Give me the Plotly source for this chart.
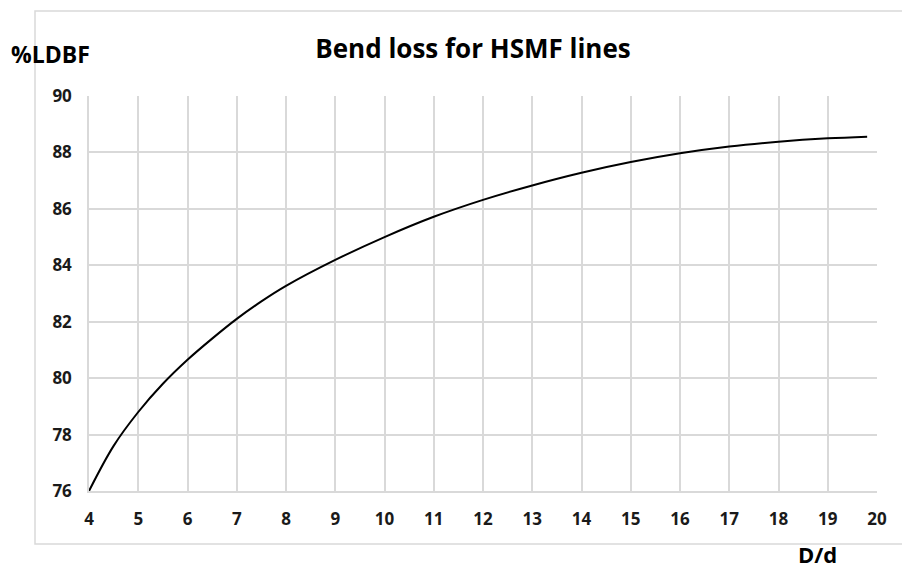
import plotly.graph_objects as go

x_ratio = [4, 4.5, 5, 5.5, 6, 6.5, 7, 7.5, 8, 9, 10, 11, 12, 13, 14, 15, 16, 17, 18, 19, 19.8]
ldbf = [76.0, 77.6, 78.8, 79.8, 80.65, 81.4, 82.1, 82.72, 83.27, 84.19, 85.0, 85.72, 86.32, 86.83,
        87.28, 87.66, 87.97, 88.21, 88.38, 88.5, 88.56]
x_ticks = list(range(4, 21))
y_ticks = list(range(76, 91, 2))

W, H = 902, 568
L, R, T, B = 89, 25, 96, 77
pw = W - L - R
ph = H - T - B

def px(xp):
    return (xp - L) / pw

def py(yp):
    return (H - B - yp) / ph

fig = go.Figure()
fig.add_trace(go.Scatter(x=x_ratio, y=ldbf, mode="lines",
                         line=dict(color="black", width=2, shape="spline", smoothing=1.0),
                         showlegend=False, hoverinfo="x+y"))

font_main = "Open Sans, Noto Sans, DejaVu Sans, sans-serif"
grid_c = "#d9d9d9"

fig.update_layout(
    width=W, height=H,
    margin=dict(l=L, r=R, t=T, b=B),
    paper_bgcolor="white", plot_bgcolor="white",
    title=dict(text="<b>Bend loss for HSMF lines</b>", x=473 / W, xanchor="center",
               y=1 - 49 / H, yanchor="middle",
               font=dict(family=font_main, size=26, color="#000000")),
    xaxis=dict(range=[4, 20], tickvals=x_ticks, ticktext=[str(v) for v in x_ticks],
               showgrid=True, gridcolor=grid_c, gridwidth=1.5,
               showline=True, linecolor=grid_c, linewidth=1.5, mirror=False,
               zeroline=False, ticks="", ticklabelstandoff=12,
               tickfont=dict(family=font_main, size=17, color="#1a1a1a", weight="bold")),
    yaxis=dict(range=[76, 90], tickvals=y_ticks, ticktext=[str(v) for v in y_ticks],
               showgrid=True, gridcolor=grid_c, gridwidth=1.5,
               showline=True, linecolor=grid_c, linewidth=1.5,
               zeroline=False, ticks="", ticklabelstandoff=12,
               tickfont=dict(family=font_main, size=17, color="#1a1a1a", weight="bold")),
    shapes=[dict(type="rect", xref="paper", yref="paper",
                 x0=px(35), x1=px(910), y0=py(544), y1=py(11),
                 line=dict(color=grid_c, width=1.5), fillcolor="rgba(0,0,0,0)", layer="below")],
    annotations=[
        dict(text="<b>%LDBF</b>", xref="paper", yref="paper", x=px(50), y=py(54),
             xanchor="center", yanchor="middle", showarrow=False,
             font=dict(family=font_main, size=23, color="#000000")),
        dict(text="<b>D/d</b>", xref="paper", yref="paper", x=px(817), y=py(554),
             xanchor="center", yanchor="middle", showarrow=False,
             font=dict(family=font_main, size=22, color="#000000")),
    ],
)

fig.write_html("out.html", config={"displayModeBar": False},
               post_script="document.body.style.margin='0px';document.body.style.overflow='hidden';")
